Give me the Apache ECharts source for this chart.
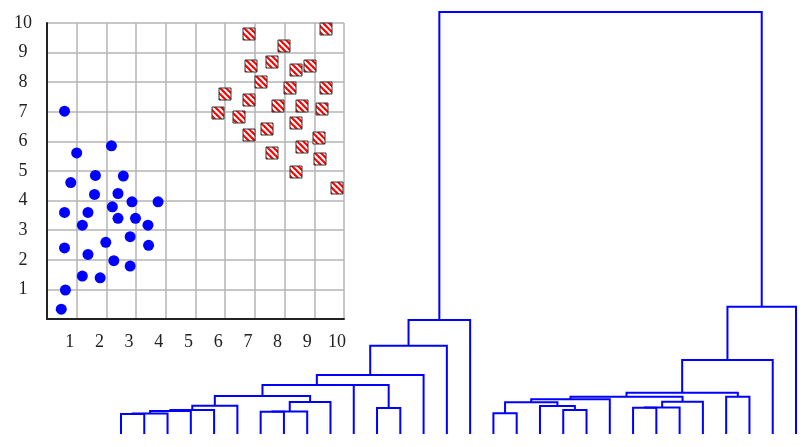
<!DOCTYPE html>
<html>
<head>
<meta charset="utf-8">
<script src="https://cdn.jsdelivr.net/npm/echarts@6/dist/echarts.min.js"></script>
<style>
  html, body { margin: 0; padding: 0; background: #fff; }
  #main { width: 811px; height: 447px; }
</style>
</head>
<body>
<div id="main"></div>
<script>
// blue cluster (circles)
const blueX = [0.59, 1.00, 2.17, 0.80, 1.63, 2.57, 1.60, 2.39, 2.86, 3.74, 2.20, 0.59, 1.38, 2.39,
               2.98, 1.19, 3.40, 2.80, 1.98, 3.42, 0.59, 1.38, 2.25, 2.80, 1.19, 1.79, 0.62, 0.48];
const blueY = [7.02, 5.61, 5.85, 4.61, 4.85, 4.83, 4.21, 4.24, 3.96, 3.96, 3.79, 3.60, 3.60, 3.40,
               3.40, 3.17, 3.17, 2.78, 2.59, 2.49, 2.40, 2.18, 1.97, 1.79, 1.45, 1.39, 0.98, 0.33];

// red cluster (hatched squares)
const redX = [6.80, 9.39, 7.99, 6.88, 7.59, 8.39, 8.85, 7.20, 6.01, 8.19, 9.39, 6.79, 7.79,
              8.60, 9.25, 5.77, 6.48, 8.39, 7.40, 6.79, 9.16, 8.60, 7.59, 9.19, 8.39, 9.78];
const redY = [9.62, 9.81, 9.21, 8.54, 8.67, 8.40, 8.56, 8.01, 7.60, 7.81, 7.81, 7.41, 7.21,
              7.21, 7.09, 6.97, 6.81, 6.61, 6.41, 6.21, 6.11, 5.80, 5.60, 5.39, 4.97, 4.41];

// dendrogram: 30 leaves, merges as [childA, childB, height]; new nodes numbered from 30
const leafCount = 30;
const linkage = [
  [0, 1, 20], [30, 2, 20.5], [31, 3, 23], [32, 4, 24], [33, 5, 28.3],
  [6, 7, 22.3], [35, 8, 22.5], [36, 9, 32], [34, 37, 38],
  [11, 12, 26], [10, 39, 49], [38, 40, 49], [41, 13, 59], [42, 14, 88.3], [43, 15, 114],
  [16, 17, 20.7], [19, 20, 24], [18, 46, 28], [45, 47, 31.7], [48, 21, 34.7],
  [22, 23, 26.3], [50, 24, 26.5], [51, 25, 32.3], [49, 52, 37.3], [26, 27, 37.3],
  [53, 54, 41.3], [55, 28, 74], [56, 29, 127.3], [44, 57, 422]
];

const bluePts = blueX.map((x, i) => [x, blueY[i]]);
const redPts = redX.map((x, i) => [x, redY[i]]);

// layout of the tree: node x = middle of its children
const pos = [], hgt = [];
for (let i = 0; i < leafCount; i++) { pos[i] = i; hgt[i] = 0; }
const links = [];
linkage.forEach(([a, b, h], k) => {
  const id = leafCount + k;
  pos[id] = (pos[a] + pos[b]) / 2;
  hgt[id] = h;
  links.push({ coords: [[pos[a], hgt[a]], [pos[a], h], [pos[b], h], [pos[b], hgt[b]]] });
});

// red/white diagonal hatch
const hatch = document.createElement('canvas');
hatch.width = 6; hatch.height = 6;
const ctx = hatch.getContext('2d');
ctx.fillStyle = '#fff';
ctx.fillRect(0, 0, 6, 6);
ctx.strokeStyle = '#ff0000';
ctx.lineWidth = 2.2;
for (let k = -1; k <= 1; k++) {
  ctx.beginPath();
  ctx.moveTo(k * 6 - 1, -1);
  ctx.lineTo(k * 6 + 7, 7);
  ctx.stroke();
}

const labelFont = { fontFamily: 'Liberation Serif', fontSize: 18, color: '#222' };

const chart = echarts.init(document.getElementById('main'));
chart.setOption({
  animation: false,
  backgroundColor: '#fff',
  grid: [
    { left: 47, top: 23, width: 297, height: 296 },
    { left: 121, width: 675, top: 12, bottom: 13 }
  ],
  xAxis: [
    {
      gridIndex: 0, type: 'value', min: 0, max: 10, interval: 1,
      axisLine: { lineStyle: { color: '#222', width: 2 } },
      axisTick: { show: false },
      splitLine: { lineStyle: { color: '#b4b4b4', width: 1.5 } },
      axisLabel: Object.assign({
        margin: 14, padding: [0, 14, 0, 0],
        formatter: v => (v === 0 ? '' : v)
      }, labelFont)
    },
    { gridIndex: 1, type: 'value', min: 0, max: leafCount - 1, show: false }
  ],
  yAxis: [
    {
      gridIndex: 0, type: 'value', min: 0, max: 10, interval: 1,
      axisLine: { lineStyle: { color: '#222', width: 2 } },
      axisTick: { show: false },
      splitLine: { lineStyle: { color: '#b4b4b4', width: 1.5 } },
      axisLabel: Object.assign({
        margin: 24, align: 'center', padding: [9, 0, 0, 0],
        formatter: v => (v === 0 ? '' : v)
      }, labelFont)
    },
    { gridIndex: 1, type: 'value', min: 0, max: 422, show: false }
  ],
  series: [
    {
      type: 'scatter', xAxisIndex: 0, yAxisIndex: 0,
      symbol: 'circle', symbolSize: 11,
      itemStyle: { color: '#0000ff', opacity: 1 },
      data: bluePts
    },
    {
      // custom so the hatch is not scaled with the symbol
      type: 'custom', xAxisIndex: 0, yAxisIndex: 0,
      renderItem: (params, api) => {
        const p = api.coord([api.value(0), api.value(1)]);
        return {
          type: 'rect',
          shape: { x: Math.round(p[0]) - 6, y: Math.round(p[1]) - 6, width: 12, height: 12 },
          style: {
            fill: { image: hatch, repeat: 'repeat' },
            stroke: '#333', lineWidth: 1
          }
        };
      },
      data: redPts
    },
    {
      type: 'lines', coordinateSystem: 'cartesian2d', xAxisIndex: 1, yAxisIndex: 1,
      polyline: true, silent: true,
      lineStyle: { color: '#0000ff', width: 2, opacity: 1 },
      data: links
    }
  ]
});
</script>
</body>
</html>
